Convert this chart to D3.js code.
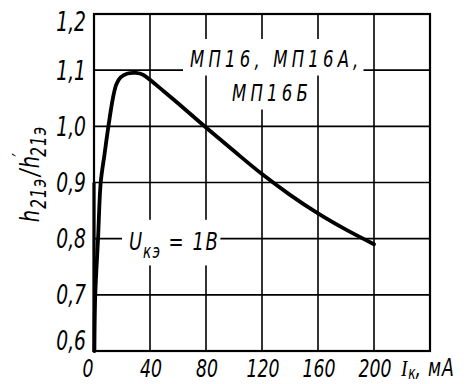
<!DOCTYPE html>
<html>
<head>
<meta charset="utf-8">
<script src="https://cdn.jsdelivr.net/npm/d3@7/dist/d3.min.js"></script>
<style>
  html, body { margin: 0; padding: 0; background: #fff; }
  svg text { font-family: "Liberation Sans Narrow", "DejaVu Sans Condensed", sans-serif; font-style: italic; fill: #000; }
</style>
</head>
<body>
<svg id="svg" width="472" height="384"></svg>
<script>

// collector current, mA
var currentMA = [0.3, 0.9, 2.9, 4.8, 7.5, 10, 13.5, 16, 19, 24, 30, 35, 40, 50, 60, 80, 100, 120, 140, 160, 180, 200];
// relative current gain h21э / h'21э
var gainRatio = [0.6, 0.7, 0.8, 0.9, 0.95, 0.995, 1.05, 1.075, 1.087, 1.094, 1.095, 1.092, 1.083, 1.062, 1.041, 0.998, 0.956, 0.915, 0.878, 0.845, 0.816, 0.79];

// axis ticks
var xTicks = [0, 40, 80, 120, 160, 200];
var yTicks = [0.6, 0.7, 0.8, 0.9, 1.0, 1.1, 1.2];
var xGrid = [0, 40, 80, 120, 160, 200, 240];

// annotations
var typeLines = ["МП16, МП16А,", "МП16Б"];
var voltageLabel = ["U", "кэ", " = 1В"];

var svg = d3.select("#svg");

// narrow drafting-style lettering: squeeze the condensed font a bit more
var squeeze = 0.8;
var place = function( tx, ty ) {
	return "translate(" + tx + "," + ty + ") scale(" + squeeze + ",1)";
};

var x = d3.scaleLinear().domain([0, 240]).range([94, 430]);
var y = d3.scaleLinear().domain([0.6, 1.2]).range([351, 14]);

var gGrid = svg.append("g");
var gMask = svg.append("g");
var gText = svg.append("g");
var gCurve = svg.append("g");

////////////////////////////
// grid

gGrid.selectAll("line.vx")
	.data( xGrid.slice(1, -1) )
	.enter().append("line")
	.attr("x1", function(d){ return x(d); })
	.attr("x2", function(d){ return x(d); })
	.attr("y1", y(1.2))
	.attr("y2", y(0.6))
	.attr("stroke", "#000")
	.attr("stroke-width", 1.6);

gGrid.selectAll("line.hy")
	.data( yTicks.slice(1, -1) )
	.enter().append("line")
	.attr("x1", x(0))
	.attr("x2", x(240))
	.attr("y1", function(d){ return y(d); })
	.attr("y2", function(d){ return y(d); })
	.attr("stroke", "#000")
	.attr("stroke-width", 1.6);

// frame
gCurve.append("rect")
	.attr("x", x(0))
	.attr("y", y(1.2))
	.attr("width", x(240) - x(0))
	.attr("height", y(0.6) - y(1.2))
	.attr("fill", "none")
	.attr("stroke", "#000")
	.attr("stroke-width", 2.2);

gCurve.append("line")
	.attr("x1", x(0)).attr("x2", x(0))
	.attr("y1", y(0.9)).attr("y2", y(0.6) + 1)
	.attr("stroke", "#000")
	.attr("stroke-width", 3.2);

////////////////////////////
// tick labels

svg.append("g").selectAll("text")
	.data( xTicks )
	.enter().append("text")
	.attr("transform", function(d){ return place( d === 0 ? x(d) - 6 : x(d) + 1, 377 ); })
	.attr("text-anchor", "middle")
	.attr("font-size", 24)
	.text(function(d){ return d; });

svg.append("g").selectAll("text")
	.data( yTicks )
	.enter().append("text")
	.attr("transform", function(d){
		return place( 86, Math.min(Math.max(y(d), y(1.2) + 8), y(0.6) - 10) );
	})
	.attr("dy", "0.36em")
	.attr("text-anchor", "end")
	.attr("font-size", 26)
	.text(function(d){ return d.toFixed(1).replace(".", ","); });

// y axis title
var yTitle = svg.append("text")
	.attr("transform", "translate(39,174) rotate(-90) scale(" + squeeze + ",1)")
	.attr("text-anchor", "middle")
	.attr("letter-spacing", 1.5)
	.attr("font-size", 27);
yTitle.append("tspan").text("h");
yTitle.append("tspan").attr("font-size", 21).attr("dy", 7).text("21э");
yTitle.append("tspan").attr("dy", -7).attr("dx", 2).text("/h");
yTitle.append("tspan").attr("font-size", 20).attr("dy", -13).attr("dx", -2).text("′");
yTitle.append("tspan").attr("font-size", 21).attr("dy", 20).attr("dx", -6).text("21э");

// x axis title
var xTitle = svg.append("text")
	.attr("transform", place( 401, 376 ))
	.attr("font-size", 24);
xTitle.append("tspan").attr("font-family", "Liberation Serif").text("I");
xTitle.append("tspan").attr("font-size", 17).attr("dy", 3).attr("dx", 1).text("к");
xTitle.append("tspan").attr("dy", -3).attr("letter-spacing", 1).text(", мА");

////////////////////////////
// annotations with white gaps cut into the grid

var typeText = gText.selectAll("text.type")
	.data( typeLines )
	.enter().append("text")
	.attr("transform", function(d, i){ return i === 0 ? place( 190, 67 ) : place( 232, 101 ); })
	.attr("font-size", 23)
	.attr("letter-spacing", 5.2)
	.text(function(d){ return d; });

var uText = gText.append("text")
	.attr("transform", place( 129, 250 ))
	.attr("font-size", 25);
uText.append("tspan").text(voltageLabel[0]);
uText.append("tspan").attr("font-size", 19).attr("dy", 8).attr("dx", 1).attr("letter-spacing", 1.5).text(voltageLabel[1]);
uText.append("tspan").attr("dy", -8).attr("letter-spacing", 2).text(voltageLabel[2]);

// on-screen boxes, svg sits at the page origin
var pads = [];
typeText.each(function(){ pads.push( this.getBoundingClientRect() ); });
pads.push( uText.node().getBoundingClientRect() );

gMask.selectAll("rect")
	.data( pads )
	.enter().append("rect")
	.attr("x", function(d){ return d.left - 7; })
	.attr("y", function(d){ return d.top - 7; })
	.attr("width", function(d){ return d.width + 8; })
	.attr("height", function(d){ return d.height + 10; })
	.attr("fill", "#fff");

////////////////////////////
// curve

var points = currentMA.map(function(v, i){ return [v, gainRatio[i]]; });

var line = d3.line()
	.x(function(d){ return x(d[0]); })
	.y(function(d){ return y(d[1]); })
	.curve(d3.curveCatmullRom.alpha(0.5));

gCurve.append("path")
	.datum( points )
	.attr("d", line)
	.attr("fill", "none")
	.attr("stroke", "#000")
	.attr("stroke-width", 3.8)
	.attr("stroke-linecap", "round");

</script>
</body>
</html>
